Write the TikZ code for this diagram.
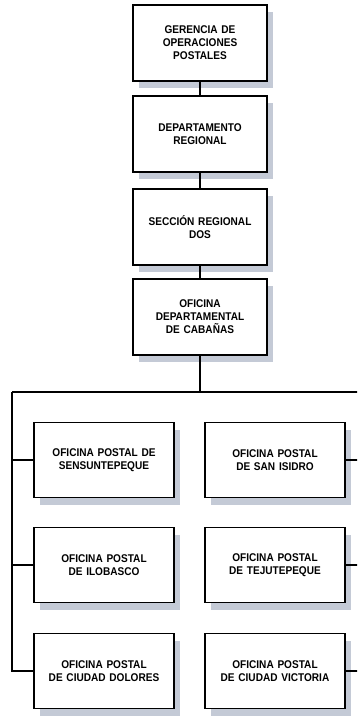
\documentclass[tikz,border=0pt]{standalone}
\usepackage{fontspec}
\setmainfont{Liberation Sans}
\newfontfamily\boxfont[FakeStretch=0.9]{Liberation Sans}
\usetikzlibrary{shadows}
\definecolor{shadowgray}{RGB}{196,202,214}
\begin{document}
\begin{tikzpicture}[x=1pt,y=-1pt,
  orgbox/.style={draw=black, line width=1.7pt, fill=white, align=center,
    font=\boxfont\fontsize{11.2}{13}\selectfont\bfseries,
    drop shadow={shadow xshift=6pt, shadow yshift=-7pt, fill=shadowgray, opacity=1}},
  topbox/.style={orgbox, minimum width=134pt, minimum height=76pt, text width=128pt},
  lowbox/.style={orgbox, minimum width=137pt, minimum height=75pt, text width=133pt},
  link/.style={draw=black, line width=1.8pt}]
\useasboundingbox (0,0) rectangle (357,718);
\clip (0,0) rectangle (357,718);
\fill[white] (0,0) rectangle (357,718);
\node[topbox] (g) at (200,43) {GERENCIA DE\\OPERACIONES\\POSTALES};
\node[topbox] (d) at (200,134) {DEPARTAMENTO\\REGIONAL};
\node[topbox] (s) at (200,227) {SECCIÓN REGIONAL\\DOS};
\node[topbox] (o) at (200,317) {OFICINA\\DEPARTAMENTAL\\DE CABAÑAS};
\node[lowbox] (a1) at (104,460) {OFICINA POSTAL DE\\SENSUNTEPEQUE};
\node[lowbox] (a2) at (104,565) {OFICINA POSTAL\\DE ILOBASCO};
\node[lowbox] (a3) at (104,671) {OFICINA POSTAL\\DE CIUDAD DOLORES};
\node[lowbox] (b1) at (275,460) {OFICINA POSTAL\\DE SAN ISIDRO};
\node[lowbox] (b2) at (275,565) {OFICINA POSTAL\\DE TEJUTEPEQUE};
\node[lowbox] (b3) at (275,671) {OFICINA POSTAL\\DE CIUDAD VICTORIA};
\coordinate (hL) at (12,392);
\coordinate (hR) at (360,392);
\draw[link] (g.south) -- (d.north);
\draw[link] (d.south) -- (s.north);
\draw[link] (s.south) -- (o.north);
\draw[link] (o.south) -- (o.south |- hL);
\draw[link] (hL) -- (hR);
\draw[link] (hL) -- (hL |- a3.west) -- (a3.west);
\draw[link] (a1.west) -- (a1.west -| hL);
\draw[link] (a2.west) -- (a2.west -| hL);
\draw[link] (hR) -- (hR |- b3.east) -- (b3.east);
\draw[link] (b1.east) -- (b1.east -| hR);
\draw[link] (b2.east) -- (b2.east -| hR);
\end{tikzpicture}
\end{document}
